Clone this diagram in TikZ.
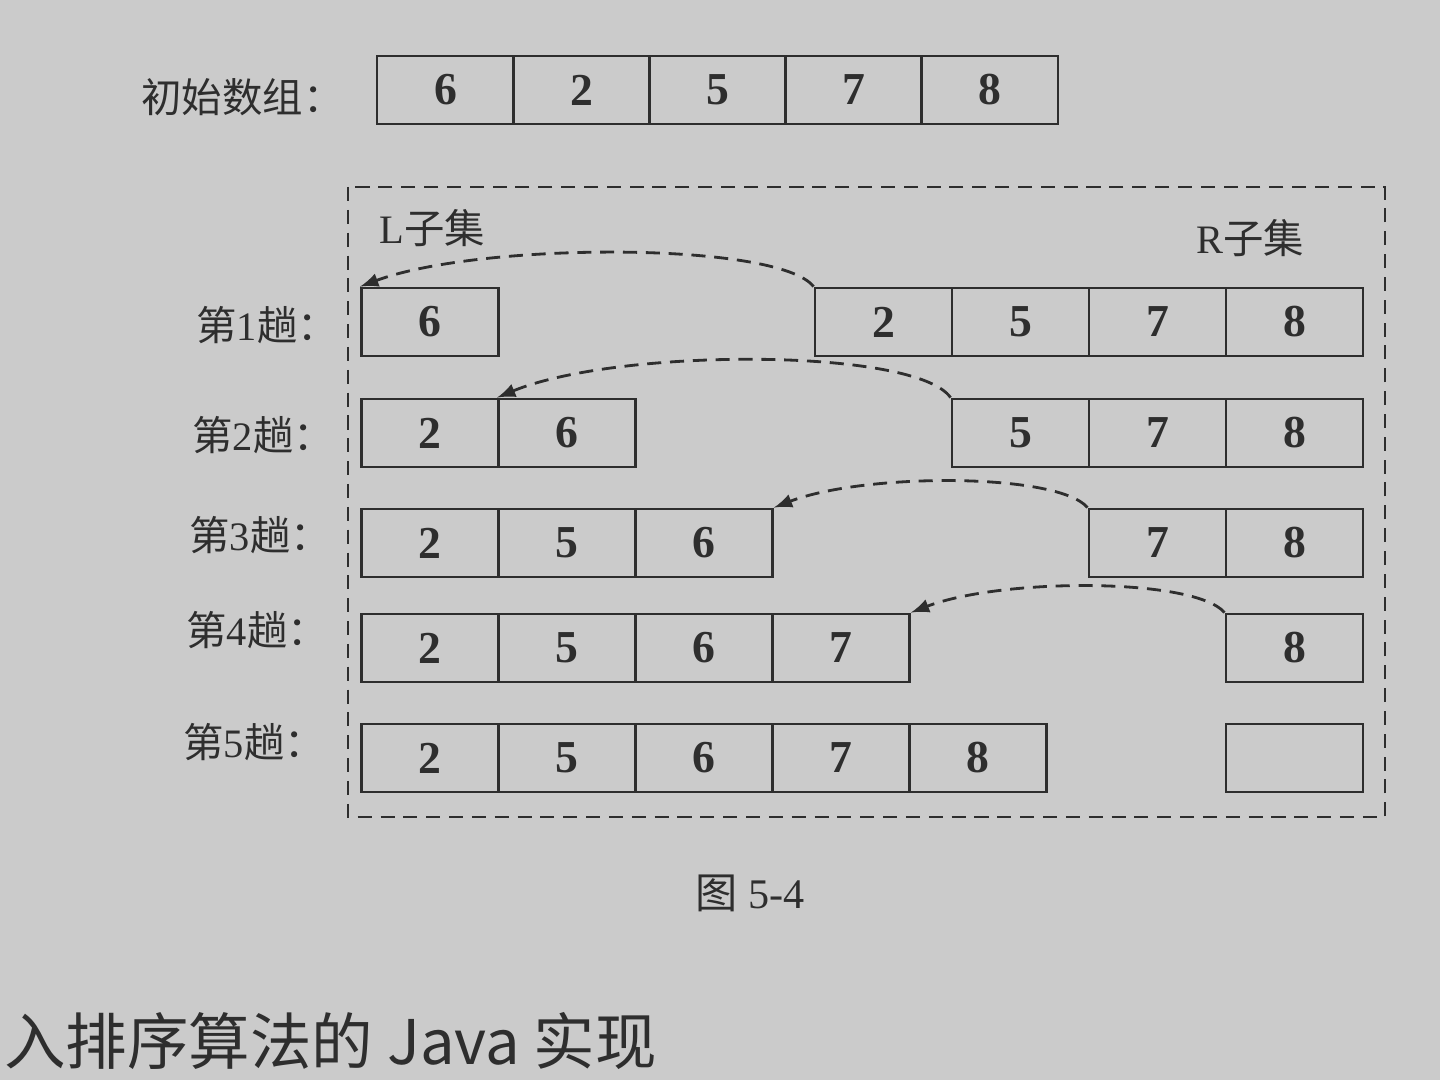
\documentclass[tikz,border=0pt]{standalone}
\usepackage{fontspec}
\setmainfont{Liberation Serif}
\newfontfamily\cjk{Noto Sans CJK SC}
\definecolor{myPaper}{HTML}{CBCBCB}
\definecolor{myInk}{HTML}{2E2E2E}

\begin{document}
\begin{tikzpicture}[>=latex, line width=0.8pt, myInk]

  \tikzstyle{C}=[rectangle,draw,minimum width=1.37cm,minimum height=0.68cm,inner sep=0pt,font=\fontsize{13}{15}\selectfont\bfseries]
  \tikzstyle{B}=[anchor=west,inner sep=0pt,font=\fontsize{11.5}{14}\selectfont]
  \tikzstyle{A}=[->,dash pattern=on 4pt off 2.5pt]

  \fill[myPaper] (0,0) rectangle (14.4,-10.8);
  \useasboundingbox (0,0) rectangle (14.4,-10.8);

  % initial array
  \node[B] at (1.40,-0.97) (initlabel) {{\cjk 初始数组：}};
  \node[C] at (4.455,-0.90) (a6) {6};
  \node[C] at (5.815,-0.90) (a2) {2};
  \node[C] at (7.175,-0.90) (a5) {5};
  \node[C] at (8.535,-0.90) (a7) {7};
  \node[C] at (9.895,-0.90) (a8) {8};

  % the passes
  \draw[dash pattern=on 4pt off 2.5pt] (3.48,-1.87) rectangle (13.85,-8.17);
  \node[B] at (3.78,-2.28) (lset) {L{\cjk 子集}};
  \node[B] at (11.95,-2.38) (rset) {R{\cjk 子集}};

  \node[B] at (1.95,-3.25) (pass1) {{\cjk 第}1{\cjk 趟：}};
  \node[C] at (4.30,-3.22) (p1l6) {6};
  \node[C] at (8.835,-3.22) (p1r2) {2};
  \node[C] at (10.205,-3.22) (p1r5) {5};
  \node[C] at (11.575,-3.22) (p1r7) {7};
  \node[C] at (12.945,-3.22) (p1r8) {8};

  \node[B] at (1.91,-4.35) (pass2) {{\cjk 第}2{\cjk 趟：}};
  \node[C] at (4.30,-4.33) (p2l2) {2};
  \node[C] at (5.67,-4.33) (p2l6) {6};
  \node[C] at (10.205,-4.33) (p2r5) {5};
  \node[C] at (11.575,-4.33) (p2r7) {7};
  \node[C] at (12.945,-4.33) (p2r8) {8};

  \node[B] at (1.88,-5.35) (pass3) {{\cjk 第}3{\cjk 趟：}};
  \node[C] at (4.30,-5.43) (p3l2) {2};
  \node[C] at (5.67,-5.43) (p3l5) {5};
  \node[C] at (7.04,-5.43) (p3l6) {6};
  \node[C] at (11.575,-5.43) (p3r7) {7};
  \node[C] at (12.945,-5.43) (p3r8) {8};

  \node[B] at (1.85,-6.30) (pass4) {{\cjk 第}4{\cjk 趟：}};
  \node[C] at (4.30,-6.48) (p4l2) {2};
  \node[C] at (5.67,-6.48) (p4l5) {5};
  \node[C] at (7.04,-6.48) (p4l6) {6};
  \node[C] at (8.41,-6.48) (p4l7) {7};
  \node[C] at (12.945,-6.48) (p4r8) {8};

  \node[B] at (1.82,-7.42) (pass5) {{\cjk 第}5{\cjk 趟：}};
  \node[C] at (4.30,-7.58) (p5l2) {2};
  \node[C] at (5.67,-7.58) (p5l5) {5};
  \node[C] at (7.04,-7.58) (p5l6) {6};
  \node[C] at (8.41,-7.58) (p5l7) {7};
  \node[C] at (9.78,-7.58) (p5l8) {8};
  \node[C] at (12.945,-7.58) (p5r) {};

  \draw[A] (p1r2.north west) .. controls +(-0.35,0.45) and +(1.2,0.45) .. (p1l6.north west);
  \draw[A] (p2r5.north west) .. controls +(-0.35,0.5) and +(1.2,0.5) .. (p2l6.north west);
  \draw[A] (p3r7.north west) .. controls +(-0.3,0.35) and +(0.9,0.35) .. (p3l6.north east);
  \draw[A] (p4r8.north west) .. controls +(-0.3,0.35) and +(0.9,0.35) .. (p4l7.north east);

  \node[font=\fontsize{12}{14}\selectfont] at (7.50,-8.93) (caption) {{\cjk 图} 5-4};
  \node[anchor=base west,inner sep=0pt,font=\fontsize{17.5}{20}\selectfont\cjk] at (0.03,-10.64) (heading) {入排序算法的 Java 实现};

\end{tikzpicture}
\end{document}
